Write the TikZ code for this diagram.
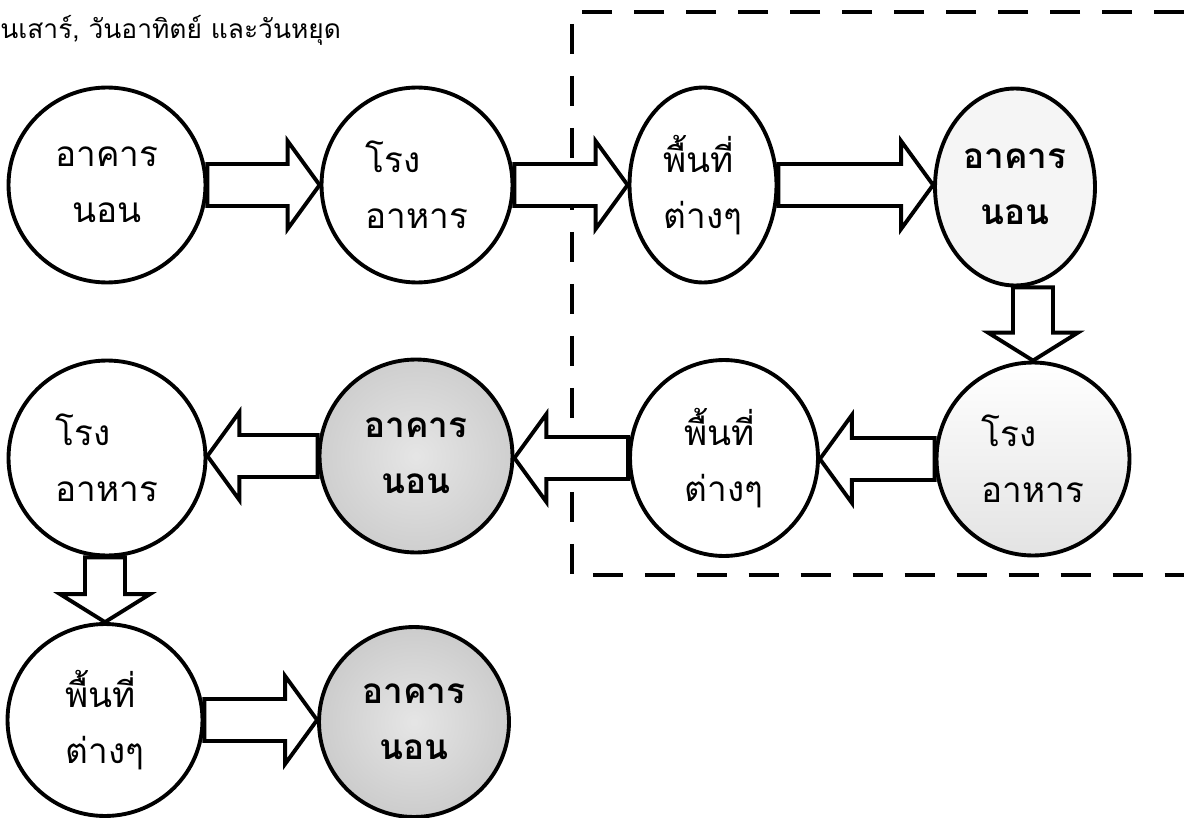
\documentclass[tikz,border=0pt]{standalone}
\usepackage{fontspec}
\newfontfamily\thaifont[Script=Thai]{Loma}
\usetikzlibrary{shapes.geometric,calc}

\newcommand{\harrow}[2]{%
  \draw[blockarr] let \p1=(#1), \p2=(#2), \n1={ifthenelse(\x2>\x1,1,-1)} in
    (\x1,\y1+0.42cm) -- (\x2-\n1*0.64cm,\y1+0.42cm) -- (\x2-\n1*0.64cm,\y1+0.88cm)
    -- (\x2,\y1) -- (\x2-\n1*0.64cm,\y1-0.88cm) -- (\x2-\n1*0.64cm,\y1-0.42cm)
    -- (\x1,\y1-0.42cm) -- cycle;}
\newcommand{\varrow}[2]{%
  \draw[blockarr] let \p1=(#1), \p2=(#2) in
    (\x2-0.4cm,\y1) -- (\x2-0.4cm,\y2+0.56cm) -- (\x2-0.9cm,\y2+0.56cm) -- (\x2,\y2)
    -- (\x2+0.9cm,\y2+0.56cm) -- (\x2+0.4cm,\y2+0.56cm) -- (\x2+0.4cm,\y1) -- cycle;}

\begin{document}
\begin{tikzpicture}[x=0.02cm,y=-0.02cm,
  every node/.style={font=\thaifont\fontsize{20}{32}\selectfont},
  place/.style={draw,ellipse,line width=2.2pt,inner sep=0pt,fill=white,align=center},
  dorm/.style={place,font=\thaifont\bfseries\fontsize{20}{32}\selectfont},
  blockarr/.style={draw,line width=2.2pt,fill=white,line join=miter},
  zone/.style={line width=2.6pt,dash pattern=on 0.6cm off 0.44cm}
]
\useasboundingbox (0,0) rectangle (1184,818);

\draw[zone] (1184,12) -- (572,12) -- (572,575) -- (1184,575);

\node[anchor=west,inner sep=0pt,font=\thaifont\fontsize{15}{18}\selectfont] (title) at (0,30) {นเสาร์, วันอาทิตย์ และวันหยุด};

\node[place,minimum width=3.94cm,minimum height=3.9cm] (dorm1) at (107,185) {อาคาร\\นอน};
\node[place,align=left,minimum width=3.82cm,minimum height=3.9cm] (canteen1) at (417,185) {โรง\\อาหาร};
\node[place,align=left,minimum width=2.94cm,minimum height=3.9cm] (area1) at (703,185) {พื้นที่\\ต่างๆ};
\node[dorm,fill=gray!8,minimum width=3.2cm,minimum height=3.94cm] (dorm2) at (1015,187) {อาคาร\\นอน};

\node[place,align=left,top color=white,bottom color=gray!22,minimum width=3.86cm,minimum height=3.86cm] (canteen2) at (1033,459) {โรง\\อาหาร};
\node[place,align=left,minimum width=3.76cm,minimum height=3.92cm] (area2) at (724,458) {พื้นที่\\ต่างๆ};
\node[dorm,inner color=gray!20,outer color=gray!38,minimum width=3.86cm,minimum height=3.86cm] (dorm3) at (416,456) {อาคาร\\นอน};
\node[place,align=left,minimum width=3.94cm,minimum height=3.9cm] (canteen3) at (107,458) {โรง\\อาหาร};

\node[place,align=left,minimum width=3.9cm,minimum height=3.84cm] (area3) at (105,720) {พื้นที่\\ต่างๆ};
\node[dorm,inner color=gray!20,outer color=gray!40,minimum width=3.8cm,minimum height=3.8cm] (dorm4) at (414,722) {อาคาร\\นอน};

\harrow{dorm1.east}{canteen1.west}
\harrow{canteen1.east}{area1.west}
\harrow{area1.east}{dorm2.west}
\varrow{dorm2.south}{canteen2.north}
\harrow{canteen2.west}{area2.east}
\harrow{area2.west}{dorm3.east}
\harrow{dorm3.west}{canteen3.east}
\varrow{canteen3.south}{area3.north}
\harrow{area3.east}{dorm4.west}
\end{tikzpicture}
\end{document}
